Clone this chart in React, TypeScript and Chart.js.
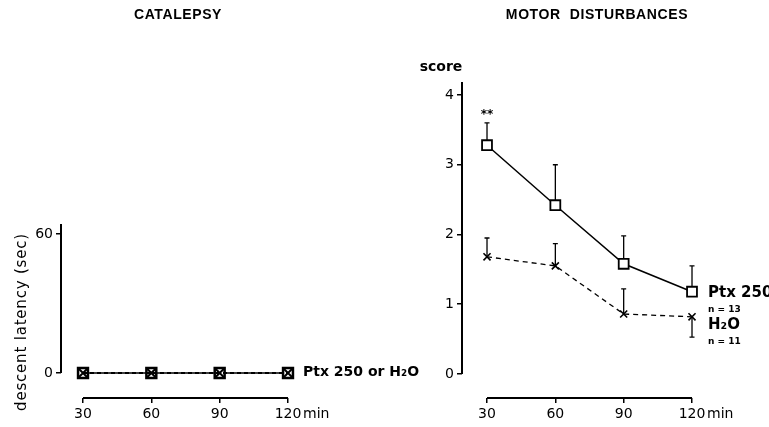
import { useEffect, useRef } from "react";
import { Chart, registerables } from "chart.js";

Chart.register(...registerables);

const timePoints = [30, 60, 90, 120];
const xTickLabels = ["30", "60", "90", "120"];

const catalepsyPtx = [0, 0, 0, 0];
const catalepsyH2O = [0, 0, 0, 0];
const catalepsyYTicks = [0, 60];

const motorPtx = [3.28, 2.42, 1.58, 1.18];
const motorPtxErrEnd = [3.6, 3.0, 1.98, 1.55];
const motorH2O = [1.68, 1.55, 0.86, 0.82];
const motorH2OErrEnd = [1.95, 1.87, 1.22, 0.53];
const motorYTicks = [0, 1, 2, 3, 4];

const FONT = "'Liberation Sans', Arial, sans-serif";
const DV = "'DejaVu Sans', sans-serif";

const pts = (vals: number[]) => vals.map((v, i) => ({ x: timePoints[i], y: v }));

function xScale(min: number, max: number) {
  return {
    type: "linear",
    min,
    max,
    afterBuildTicks: (s: any) => {
      s.ticks = timePoints.map((v) => ({ value: v }));
    },
    afterFit: (s: any) => {
      s.height = 29;
    },
    border: { display: false },
    grid: { drawOnChartArea: false, drawTicks: true, tickLength: 5, color: "#000", lineWidth: 1.5 },
    ticks: {
      color: "#000",
      font: { family: DV, size: 14 },
      padding: 3,
      maxRotation: 0,
      autoSkip: false,
      callback: (_v: any, i: number) => xTickLabels[i],
    },
  };
}

function yScale(min: number, max: number, ticks: number[], width: number) {
  return {
    type: "linear",
    min,
    max,
    afterBuildTicks: (s: any) => {
      s.ticks = ticks.map((v) => ({ value: v }));
    },
    afterFit: (s: any) => {
      s.width = width;
    },
    border: { display: false },
    grid: { drawOnChartArea: false, drawTicks: true, tickLength: 5, color: "#000", lineWidth: 1.5 },
    ticks: {
      color: "#000",
      font: { family: DV, size: 14 },
      padding: 3,
      autoSkip: false,
      callback: (v: any) => String(v),
    },
  };
}

function drawAxes(chart: any, yTopVal: number) {
  const { ctx, chartArea, scales } = chart;
  const xs = scales.x;
  const ys = scales.y;
  ctx.save();
  ctx.strokeStyle = "#000";
  ctx.lineWidth = 2;
  ctx.beginPath();
  ctx.moveTo(chartArea.left, chartArea.top);
  ctx.lineTo(chartArea.left, ys.getPixelForValue(yTopVal));
  ctx.stroke();
  ctx.beginPath();
  ctx.moveTo(xs.getPixelForValue(timePoints[0]), chartArea.bottom);
  ctx.lineTo(xs.getPixelForValue(timePoints[timePoints.length - 1]), chartArea.bottom);
  ctx.stroke();
  ctx.fillStyle = "#000";
  ctx.font = `14px ${DV}`;
  ctx.textAlign = "left";
  ctx.textBaseline = "middle";
  ctx.fillText("min", xs.getPixelForValue(120) + 15, chartArea.bottom + 16);
  ctx.restore();
}

function drawErrors(chart: any, vals: number[], ends: number[]) {
  const { ctx, scales } = chart;
  const xs = scales.x;
  const ys = scales.y;
  ctx.save();
  ctx.strokeStyle = "#000";
  ctx.lineWidth = 1.3;
  for (let i = 0; i < vals.length; i++) {
    const x = xs.getPixelForValue(timePoints[i]);
    const y1 = ys.getPixelForValue(vals[i]);
    const y2 = ys.getPixelForValue(ends[i]);
    ctx.beginPath();
    ctx.moveTo(x, y1);
    ctx.lineTo(x, y2);
    ctx.moveTo(x - 2.5, y2);
    ctx.lineTo(x + 2.5, y2);
    ctx.stroke();
  }
  ctx.restore();
}

const leftPlugin = {
  id: "leftDecor",
  beforeDatasetsDraw(chart: any) {
    drawAxes(chart, 0);
  },
  afterDraw(chart: any) {
    const { ctx, scales } = chart;
    const xs = scales.x;
    const ys = scales.y;
    ctx.save();
    ctx.fillStyle = "#000";
    ctx.textBaseline = "middle";
    ctx.textAlign = "center";
    ctx.font = `bold 14px ${FONT}`;
    (ctx as any).letterSpacing = "0.6px";
    ctx.fillText("CATALEPSY", 178, 15);
    ctx.font = `bold 14px ${DV}`;
    (ctx as any).letterSpacing = "0px";
    ctx.textAlign = "left";
    ctx.fillText("Ptx 250 or H₂O", xs.getPixelForValue(120) + 15, ys.getPixelForValue(0) - 1);
    ctx.translate(22, 322);
    ctx.rotate(-Math.PI / 2);
    ctx.textAlign = "center";
    ctx.font = `15px ${DV}`;
    (ctx as any).letterSpacing = "0.8px";
    ctx.fillText("descent latency (sec)", 0, 0);
    ctx.restore();
  },
};

const rightPlugin = {
  id: "rightDecor",
  beforeDatasetsDraw(chart: any) {
    drawAxes(chart, 0);
    drawErrors(chart, motorPtx, motorPtxErrEnd);
    drawErrors(chart, motorH2O, motorH2OErrEnd);
  },
  afterDraw(chart: any) {
    const { ctx, scales, chartArea } = chart;
    const xs = scales.x;
    const ys = scales.y;
    ctx.save();
    ctx.fillStyle = "#000";
    ctx.textBaseline = "middle";
    ctx.textAlign = "center";
    ctx.font = `bold 14px ${FONT}`;
    (ctx as any).letterSpacing = "0.6px";
    ctx.fillText("MOTOR  DISTURBANCES", 217, 15);
    (ctx as any).letterSpacing = "0px";
    ctx.font = `bold 14px ${DV}`;
    ctx.fillText("score", chartArea.left - 21, chartArea.top - 15);
    ctx.font = `bold 12px ${DV}`;
    ctx.fillText("**", xs.getPixelForValue(30), ys.getPixelForValue(motorPtxErrEnd[0]) - 8);
    const lx = xs.getPixelForValue(120) + 16;
    const ly = ys.getPixelForValue(motorPtx[3]);
    ctx.textAlign = "left";
    ctx.font = `bold 15px ${DV}`;
    ctx.fillText("Ptx 250", lx, ly + 1);
    ctx.font = `bold 9px ${DV}`;
    ctx.fillText("n = 13", lx, ly + 18);
    ctx.font = `bold 15px ${DV}`;
    ctx.fillText("H₂O", lx, ly + 33);
    ctx.font = `bold 9px ${DV}`;
    ctx.fillText("n = 11", lx, ly + 50);
    ctx.restore();
  },
};

function baseOptions(scales: any, padTop: number, padRight: number) {
  return {
    responsive: false,
    animation: false,
    events: [],
    layout: { padding: { top: padTop, right: padRight, left: 0, bottom: 0 } },
    plugins: { legend: { display: false }, tooltip: { enabled: false }, title: { display: false } },
    scales,
  };
}

export default function App() {
  const leftRef = useRef<HTMLCanvasElement>(null);
  const rightRef = useRef<HTMLCanvasElement>(null);

  useEffect(() => {
    const left = new Chart(leftRef.current as HTMLCanvasElement, {
      type: "line",
      data: {
        datasets: [
          {
            label: "H2O",
            data: pts(catalepsyH2O),
            borderColor: "#000",
            borderWidth: 2,
            borderDash: [4, 3],
            pointStyle: "crossRot",
            pointRadius: 6,
            pointBorderWidth: 2,
            pointBorderColor: "#000",
          },
          {
            label: "Ptx 250",
            data: pts(catalepsyPtx),
            borderColor: "#000",
            borderWidth: 1.5,
            pointStyle: "rect",
            pointRadius: 7,
            pointBorderWidth: 2.5,
            pointBorderColor: "#000",
            pointBackgroundColor: "#fff",
          },
        ],
      },
      options: baseOptions(
        { x: xScale(20.34, 156), y: yScale(-10.79, 64.32, catalepsyYTicks, 61) },
        224,
        60
      ) as any,
      plugins: [leftPlugin],
    } as any);

    const right = new Chart(rightRef.current as HTMLCanvasElement, {
      type: "line",
      data: {
        datasets: [
          {
            label: "Ptx 250",
            data: pts(motorPtx),
            borderColor: "#000",
            borderWidth: 1.5,
            pointStyle: "rect",
            pointRadius: 7,
            pointBorderWidth: 1.8,
            pointBorderColor: "#000",
            pointBackgroundColor: "#fff",
          },
          {
            label: "H2O",
            data: pts(motorH2O),
            borderColor: "#000",
            borderWidth: 1.3,
            borderDash: [5, 4],
            pointStyle: "crossRot",
            pointRadius: 5,
            pointBorderWidth: 1.6,
            pointBorderColor: "#000",
          },
        ],
      },
      options: baseOptions(
        { x: xScale(19.02, 149.85), y: yScale(-0.344, 4.186, motorYTicks, 82) },
        82,
        9
      ) as any,
      plugins: [rightPlugin],
    } as any);

    return () => {
      left.destroy();
      right.destroy();
    };
  }, []);

  return (
    <div style={{ position: "fixed", left: 0, top: 0, width: 769, height: 427, background: "#fff" }}>
      <canvas ref={leftRef} width={430} height={427} style={{ position: "absolute", left: 0, top: 0 }} />
      <canvas ref={rightRef} width={389} height={427} style={{ position: "absolute", left: 380, top: 0 }} />
    </div>
  );
}
